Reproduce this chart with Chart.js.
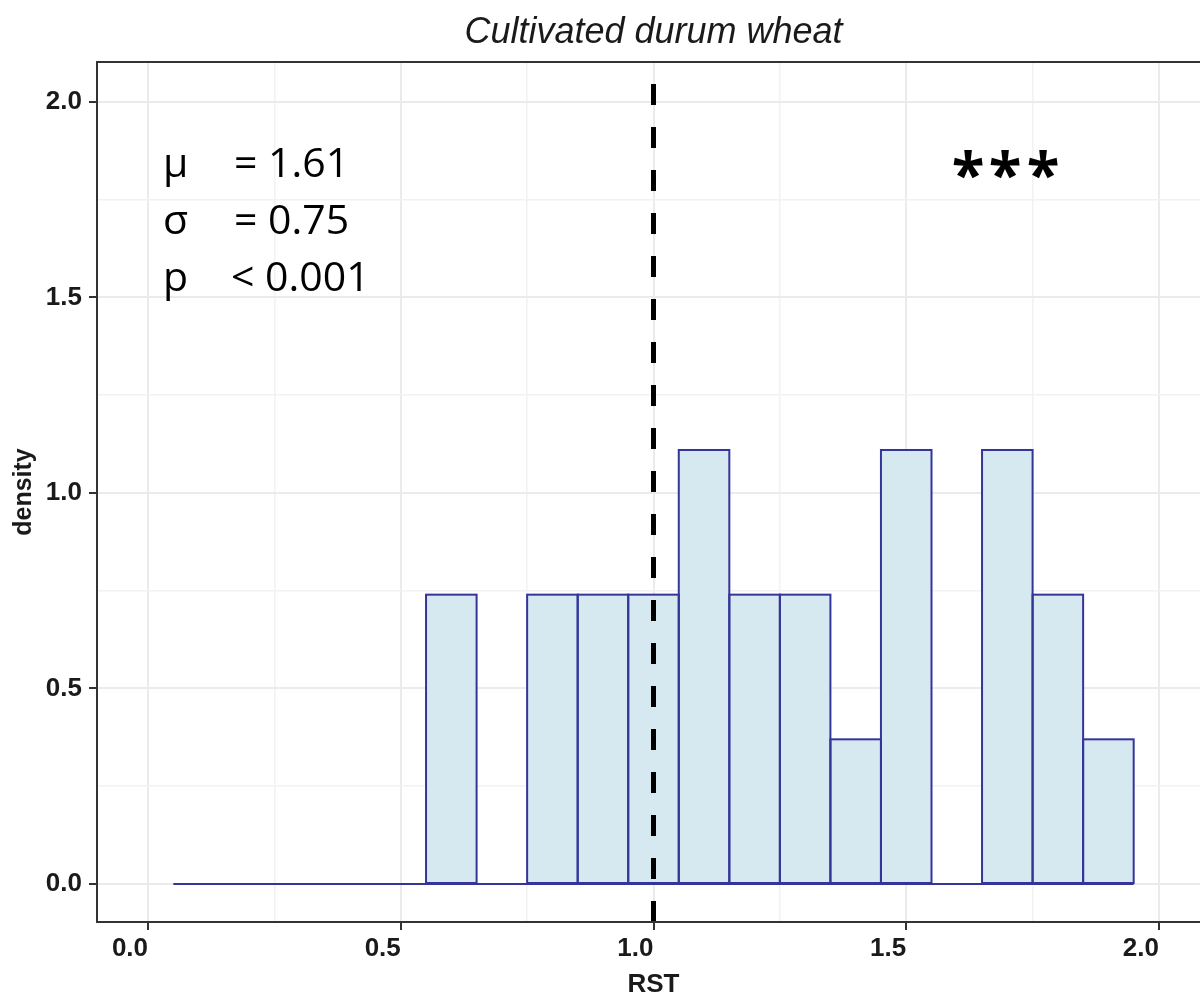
<!DOCTYPE html>
<html>
<head>
<meta charset="utf-8">
<script src="https://cdn.jsdelivr.net/npm/chart.js@4.4.1/dist/chart.umd.min.js"></script>
<style>
  html, body { margin: 0; padding: 0; background: #fff; overflow: hidden; }
  canvas { display: block; }
</style>
</head>
<body>
<canvas id="histChart" width="1210" height="995"></canvas>
<script>
// --- data ---
const binCenters = [0.1, 0.2, 0.3, 0.4, 0.5, 0.6, 0.7, 0.8, 0.9, 1.0,
                    1.1, 1.2, 1.3, 1.4, 1.5, 1.6, 1.7, 1.8, 1.9];
const densityValues = [0, 0, 0, 0, 0, 0.74, 0, 0.74, 0.74, 0.74,
                       1.11, 0.74, 0.74, 0.37, 1.11, 0, 1.11, 0.74, 0.37];
const binWidth = 0.1;
const refLineX = 1.0;

const xMajorTicks = [0, 0.5, 1.0, 1.5, 2.0];
const xMinorTicks = [0.25, 0.75, 1.25, 1.75];
const yMajorTicks = [0, 0.5, 1.0, 1.5, 2.0];
const yMinorTicks = [0.25, 0.75, 1.25, 1.75];
const xLimits = [-0.101, 2.101];
const yLimits = [-0.0972, 2.1023];

const statSymbols = ['\u03bc', '\u03c3', 'p'];
const statTexts = ['= 1.61', '= 0.75', '< 0.001'];
const signifText = '***';

const outlineColor = '#34349a';
const fillColor = '#d7e9f0';
const labelFont = 'Liberation Sans, Arial, sans-serif';

const isMajor = (list, v) => list.some(t => Math.abs(t - v) < 1e-9);

// outline each non-empty bar with a single stroke (shared edges stay thin)
const barOutline = {
    id: 'barOutline',
    afterDatasetDraw(chart, args) {
        if (args.index !== 0) return;
        const ctx = chart.ctx;
        ctx.save();
        ctx.strokeStyle = outlineColor;
        ctx.lineWidth = 2;
        args.meta.data.forEach((bar, i) => {
            if (!densityValues[i]) return;
            const p = bar.getProps(['x', 'y', 'base', 'width'], true);
            ctx.strokeRect(p.x - p.width / 2, p.y, p.width, p.base - p.y);
        });
        ctx.restore();
    }
};

// panel border + text annotations
const panelDecor = {
    id: 'panelDecor',
    afterDraw(chart) {
        const { ctx, chartArea: a } = chart;
        ctx.save();
        ctx.strokeStyle = '#333333';
        ctx.lineWidth = 2;
        ctx.strokeRect(a.left, a.top, a.right - a.left, a.bottom - a.top);

        ctx.fillStyle = '#000';
        ctx.font = '41px "Open Sans"';
        ctx.textBaseline = 'alphabetic';
        ctx.textAlign = 'left';
        const baselines = [177, 234, 291];
        statSymbols.forEach((s, i) => {
            ctx.fillText(s, a.left + 66, baselines[i]);
            ctx.fillText(statTexts[i], a.left + (i === 2 ? 134 : 137), baselines[i]);
        });

        ctx.font = 'bold 60px "Open Sans"';
        ctx.textAlign = 'center';
        const m = ctx.measureText('*');
        const dy = (m.actualBoundingBoxAscent - m.actualBoundingBoxDescent) / 2;
        const starX = [968, 1005, 1043];
        signifText.split('').forEach((c, i) => ctx.fillText(c, starX[i], 164 + dy));
        ctx.restore();
    }
};

new Chart(document.getElementById('histChart'), {
    type: 'bar',
    data: {
        datasets: [
            {
                type: 'bar',
                data: binCenters.map((x, i) => ({ x: x, y: densityValues[i] })),
                backgroundColor: fillColor,
                borderWidth: 0,
                barPercentage: 1,
                categoryPercentage: 1,
                order: 3
            },
            {
                type: 'line',
                data: [
                    { x: binCenters[0] - binWidth / 2, y: 0 },
                    { x: binCenters[binCenters.length - 1] + binWidth / 2, y: 0 }
                ],
                borderColor: outlineColor,
                borderWidth: 2,
                pointRadius: 0,
                order: 2
            },
            {
                type: 'line',
                data: [{ x: refLineX, y: yLimits[0] }, { x: refLineX, y: yLimits[1] }],
                borderColor: '#000',
                borderWidth: 5,
                borderDash: [21, 22],
                borderCapStyle: 'butt',
                pointRadius: 0,
                order: 1
            }
        ]
    },
    options: {
        responsive: false,
        animation: false,
        layout: { padding: 0 },
        plugins: {
            legend: { display: false },
            tooltip: { enabled: false },
            title: {
                display: true,
                text: 'Cultivated durum wheat',
                fullSize: false,
                color: '#1a1a1a',
                font: { family: labelFont, size: 36, style: 'italic', weight: 'normal', lineHeight: 1.2 },
                padding: { top: 11, bottom: 7.8 }
            }
        },
        scales: {
            x: {
                type: 'linear',
                min: xLimits[0],
                max: xLimits[1],
                offset: false,
                afterBuildTicks: s => { s.ticks = [...xMajorTicks, ...xMinorTicks].map(v => ({ value: v })); },
                afterFit: s => { s.height = 73; },
                border: { display: false },
                grid: {
                    offset: false,
                    color: c => isMajor(xMajorTicks, c.tick.value) ? '#ebebeb' : '#f2f2f2',
                    lineWidth: c => isMajor(xMajorTicks, c.tick.value) ? 2 : 1.5,
                    tickColor: c => isMajor(xMajorTicks, c.tick.value) ? '#333333' : 'rgba(0,0,0,0)',
                    tickLength: 8,
                    tickWidth: 2
                },
                ticks: {
                    autoSkip: false,
                    maxRotation: 0,
                    align: 'end',
                    padding: 3,
                    color: '#1a1a1a',
                    font: { family: labelFont, size: 26, weight: 'bold' },
                    callback: v => isMajor(xMajorTicks, v) ? v.toFixed(1) : ''
                },
                title: {
                    display: true,
                    text: 'RST',
                    color: '#1a1a1a',
                    font: { family: labelFont, size: 26, weight: 'bold', lineHeight: 0.8 },
                    padding: 0
                }
            },
            y: {
                type: 'linear',
                min: yLimits[0],
                max: yLimits[1],
                afterBuildTicks: s => { s.ticks = [...yMajorTicks, ...yMinorTicks].map(v => ({ value: v })); },
                afterFit: s => { s.width = 97; },
                border: { display: false },
                grid: {
                    color: c => isMajor(yMajorTicks, c.tick.value) ? '#ebebeb' : '#f2f2f2',
                    lineWidth: c => isMajor(yMajorTicks, c.tick.value) ? 2 : 1.5,
                    tickColor: c => isMajor(yMajorTicks, c.tick.value) ? '#333333' : 'rgba(0,0,0,0)',
                    tickLength: 8,
                    tickWidth: 2
                },
                ticks: {
                    autoSkip: false,
                    padding: 7,
                    color: '#1a1a1a',
                    font: { family: labelFont, size: 26, weight: 'bold' },
                    callback: v => isMajor(yMajorTicks, v) ? v.toFixed(1) : ''
                },
                title: {
                    display: true,
                    text: 'density',
                    color: '#1a1a1a',
                    font: { family: labelFont, size: 25, weight: 'bold', lineHeight: 1.2 },
                    padding: { top: 9, bottom: 0 }
                }
            }
        }
    },
    plugins: [barOutline, panelDecor]
});
</script>
</body>
</html>
